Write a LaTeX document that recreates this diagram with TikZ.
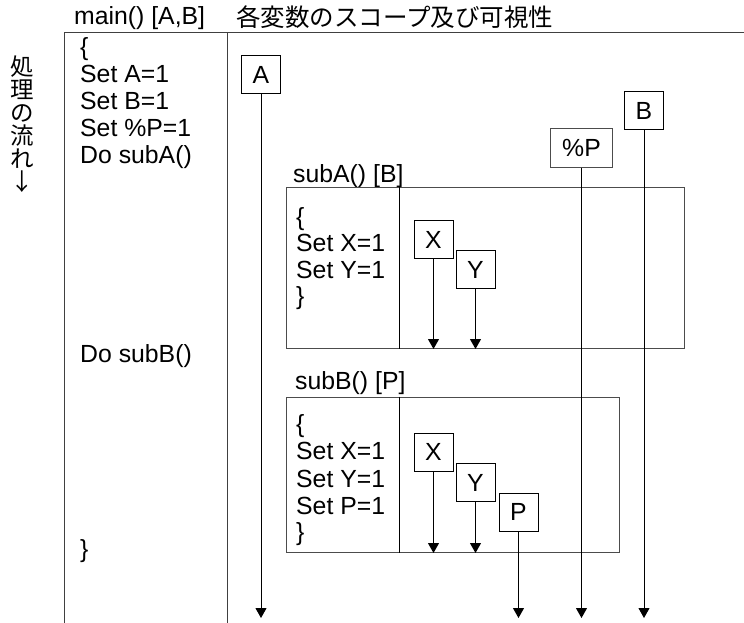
\documentclass[tikz,border=0pt]{standalone}
\usepackage{fontspec}
\setmainfont{Liberation Sans}
\newfontfamily\jp{Noto Sans CJK JP}
\usetikzlibrary{arrows.meta}
\begin{document}
\begin{tikzpicture}[x=1pt,y=-1pt,
  txt/.style={anchor=base west, inner sep=0pt, font=\fontsize{24.8}{27}\selectfont},
  jptxt/.style={anchor=base west, inner sep=0pt, font=\jp\fontsize{24.5}{27}\selectfont},
  var/.style={draw=black, line width=1pt, minimum width=39pt, minimum height=38pt, inner sep=0pt, font=\fontsize{24.8}{27}\selectfont},
  life/.style={draw=black, line width=1pt, -{Triangle[length=10pt,width=11pt]}},
  frame/.style={draw=black!75, line width=1pt},
  subbox/.style={draw=black!70, line width=1pt, anchor=north west, inner sep=0pt}]
\useasboundingbox (0,0) rectangle (744,623);
% coordinates
\coordinate (bottom) at (0,618);
\coordinate (pagebottom) at (0,623);
\coordinate (topleft) at (64,33);
\coordinate (topright) at (744,33);
\coordinate (divtop) at (227,33);
% titles
\node[txt] (t1) at (74,25) {main() [A,B]};
\node[jptxt] (t2) at (236,27) {各変数のスコープ及び可視性};
% vertical label
\node[anchor=north, inner sep=0pt, align=center, font=\jp\fontsize{23.5}{23}\selectfont] (flow) at (22,56) {処\\理\\の\\流\\れ\\↓};
% main frame
\draw[frame] (topright) -- (topleft) -- (topleft |- pagebottom);
\draw[frame] (divtop) -- (divtop |- pagebottom);
% main code
\node[txt] (m1) at (80,56) {\{};
\node[txt] (m2) at (80,83) {Set A=1};
\node[txt] (m3) at (80,110) {Set B=1};
\node[txt] (m4) at (80,137) {Set \%P=1};
\node[txt] (m5) at (80,163) {Do subA()};
\node[txt] (m6) at (80,362) {Do subB()};
\node[txt] (m7) at (80,557) {\}};
% subA
\node[txt] (la) at (293,182) {subA() [B]};
\node[subbox, minimum width=398.5pt, minimum height=161pt] (subA) at (285.5,187) {};
\draw[frame, draw=black] (399,187) coordinate (dA) -- (dA |- subA.south);
\node[txt] (a1) at (296,225) {\{};
\node[txt] (a2) at (296,251) {Set X=1};
\node[txt] (a3) at (296,278) {Set Y=1};
\node[txt] (a4) at (296,304) {\}};
% subB
\node[txt] (lb) at (295,389) {subB() [P]};
\node[subbox, minimum width=333.5pt, minimum height=155.5pt] (subB) at (285.5,396.5) {};
\draw[frame, draw=black] (399,396.5) coordinate (dB) -- (dB |- subB.south);
\node[txt] (b1) at (296,432) {\{};
\node[txt] (b2) at (296,459) {Set X=1};
\node[txt] (b3) at (296,487) {Set Y=1};
\node[txt] (b4) at (296,514) {Set P=1};
\node[txt] (b5) at (296,540) {\}};
% variables
\node[var] (A) at (261,74.5) {A};
\node[var] (B) at (644,111) {B};
\node[var, draw=black!70, minimum width=62pt] (P0) at (581.5,148) {\%P};
\node[var] (AX) at (433.5,239.5) {X};
\node[var] (AY) at (475.5,269.5) {Y};
\node[var] (BX) at (433.5,452) {X};
\node[var] (BY) at (475.5,482.5) {Y};
\node[var] (BP) at (518.5,512) {P};
% lifelines
\draw[life] (A.south) -- (A.south |- bottom);
\draw[life] (B.south) -- (B.south |- bottom);
\draw[life] (P0.south) -- (P0.south |- bottom);
\draw[life] (BP.south) -- (BP.south |- bottom);
\draw[life] (AX.south) -- (AX.south |- subA.south);
\draw[life] (AY.south) -- (AY.south |- subA.south);
\draw[life] (BX.south) -- (BX.south |- subB.south);
\draw[life] (BY.south) -- (BY.south |- subB.south);
\end{tikzpicture}
\end{document}
